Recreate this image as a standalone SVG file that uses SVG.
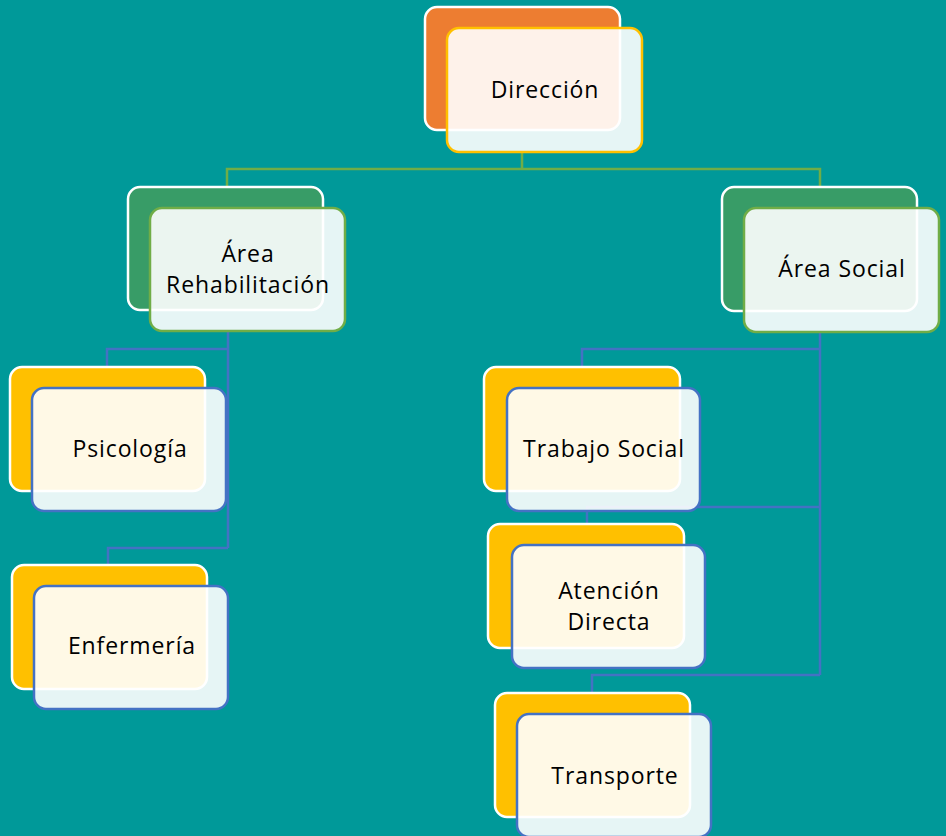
<svg xmlns="http://www.w3.org/2000/svg" width="946" height="836" viewBox="0 0 946 836">
<style>
.back{stroke:#ffffff;stroke-width:2.5}
.front{fill:#ffffff;fill-opacity:0.9;stroke-width:2.5}
.orange{fill:#ED7D31}
.green{fill:#389C67}
.yellow{fill:#FFC000}
.fy{stroke:#FFC000}
.fg{stroke:#70AD47}
.fb{stroke:#4472C4}
.lg{fill:none;stroke:#70AD47;stroke-width:2.5}
.lb{fill:none;stroke:#4472C4;stroke-width:2.5}
text{font-family:"Open Sans","Liberation Sans",sans-serif;font-size:23px;letter-spacing:0.9px;fill:#000;text-anchor:middle}
</style>
<rect width="946" height="836" fill="#009999"/>
<g id="connectors">
<polyline class="lg" points="522,152 522,169"/>
<polyline class="lg" points="227,187 227,169 820,169 820,187"/>
<polyline class="lb" points="228,331 228,548"/>
<polyline class="lb" points="228,349 107,349 107,367"/>
<polyline class="lb" points="228,548 108,548 108,565"/>
<polyline class="lb" points="820,332 820,675"/>
<polyline class="lb" points="820,349 582,349 582,367"/>
<polyline class="lb" points="820,507 587,507 587,524"/>
<polyline class="lb" points="820,675 592,675 592,693"/>
</g>
<g id="direccion">
<rect class="back orange" x="425" y="7" width="195" height="123" rx="12"/>
<rect class="front fy" x="447" y="28" width="195" height="124" rx="12"/>
<text x="545" y="98">Dirección</text>
</g>
<g id="area-rehabilitacion">
<rect class="back green" x="128" y="187" width="195" height="123" rx="12"/>
<rect class="front fg" x="150" y="208" width="195" height="123" rx="12"/>
<text x="248" y="262">Área</text>
<text x="248" y="293">Rehabilitación</text>
</g>
<g id="area-social">
<rect class="back green" x="722" y="187" width="195" height="124" rx="12"/>
<rect class="front fg" x="744" y="208" width="195" height="124" rx="12"/>
<text x="842" y="277">Área Social</text>
</g>
<g id="psicologia">
<rect class="back yellow" x="10" y="367" width="195" height="124" rx="12"/>
<rect class="front fb" x="32" y="388" width="194" height="123" rx="12"/>
<text x="130" y="457">Psicología</text>
</g>
<g id="enfermeria">
<rect class="back yellow" x="12" y="565" width="195" height="124" rx="12"/>
<rect class="front fb" x="34" y="586" width="194" height="123" rx="12"/>
<text x="132" y="654">Enfermería</text>
</g>
<g id="trabajo-social">
<rect class="back yellow" x="484" y="367" width="196" height="124" rx="12"/>
<rect class="front fb" x="507" y="388" width="193" height="123" rx="12"/>
<text x="604" y="457">Trabajo Social</text>
</g>
<g id="atencion-directa">
<rect class="back yellow" x="488" y="524" width="196" height="124" rx="12"/>
<rect class="front fb" x="512" y="545" width="193" height="123" rx="12"/>
<text x="609" y="599">Atención</text>
<text x="609" y="630">Directa</text>
</g>
<g id="transporte">
<rect class="back yellow" x="495" y="693" width="195" height="124" rx="12"/>
<rect class="front fb" x="517" y="714" width="194" height="123" rx="12"/>
<text x="615" y="784">Transporte</text>
</g>
</svg>
